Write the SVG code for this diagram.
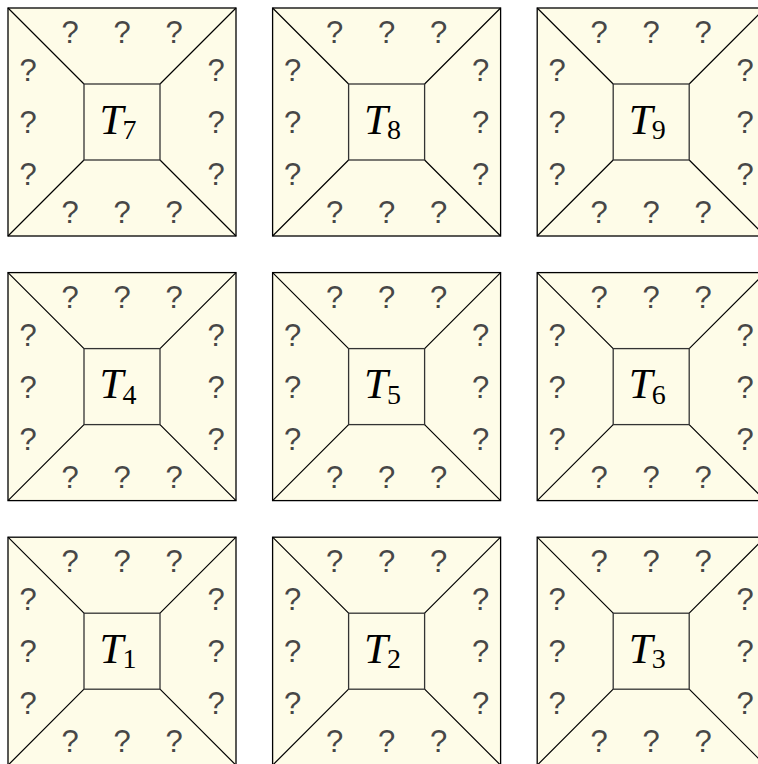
<svg xmlns="http://www.w3.org/2000/svg" width="758" height="764" viewBox="0 0 758 764">
<style>
.outer{fill:#FEFCE8;stroke:#000;stroke-width:1.3}
.inner{fill:none;stroke:#333;stroke-width:1.3}
.diag{fill:none;stroke:#000;stroke-width:1.2}
.q{font-family:"Liberation Sans",Arial,sans-serif;font-size:31px;fill:#474747;text-anchor:middle}
.lab{font-family:"Liberation Serif","Times New Roman",serif;font-size:43px;fill:#000}
.lab .v{font-style:italic}
.lab .s{font-size:28px}
</style>
<defs>
<g id="frame">
<rect class="outer" x="0" y="0" width="228" height="228"/>
<path class="diag" d="M0,0L76,76M228,0L152,76M0,228L76,152M228,228L152,152"/>
<rect class="inner" x="76" y="76" width="76" height="76"/>
</g>
</defs>
<rect width="758" height="764" fill="#fff"/>
<g id="tiles">
<g id="tile-T7" transform="translate(8,8)">
<use href="#frame"/>
<text class="q" x="62" y="35">?</text><text class="q" x="114" y="35">?</text><text class="q" x="166" y="35">?</text>
<text class="q" x="62" y="215">?</text><text class="q" x="114" y="215">?</text><text class="q" x="166" y="215">?</text>
<text class="q" x="20" y="73">?</text><text class="q" x="20" y="125">?</text><text class="q" x="20" y="177">?</text>
<text class="q" x="208" y="73">?</text><text class="q" x="208" y="125">?</text><text class="q" x="208" y="177">?</text>
<text class="lab" x="91.5" y="125.5"><tspan class="v">T</tspan><tspan class="s" x="114.5" y="131">7</tspan></text>
</g>
<g id="tile-T8" transform="translate(272.6,8)">
<use href="#frame"/>
<text class="q" x="62" y="35">?</text><text class="q" x="114" y="35">?</text><text class="q" x="166" y="35">?</text>
<text class="q" x="62" y="215">?</text><text class="q" x="114" y="215">?</text><text class="q" x="166" y="215">?</text>
<text class="q" x="20" y="73">?</text><text class="q" x="20" y="125">?</text><text class="q" x="20" y="177">?</text>
<text class="q" x="208" y="73">?</text><text class="q" x="208" y="125">?</text><text class="q" x="208" y="177">?</text>
<text class="lab" x="91.5" y="125.5"><tspan class="v">T</tspan><tspan class="s" x="114.5" y="131">8</tspan></text>
</g>
<g id="tile-T9" transform="translate(537.2,8)">
<use href="#frame"/>
<text class="q" x="62" y="35">?</text><text class="q" x="114" y="35">?</text><text class="q" x="166" y="35">?</text>
<text class="q" x="62" y="215">?</text><text class="q" x="114" y="215">?</text><text class="q" x="166" y="215">?</text>
<text class="q" x="20" y="73">?</text><text class="q" x="20" y="125">?</text><text class="q" x="20" y="177">?</text>
<text class="q" x="208" y="73">?</text><text class="q" x="208" y="125">?</text><text class="q" x="208" y="177">?</text>
<text class="lab" x="91.5" y="125.5"><tspan class="v">T</tspan><tspan class="s" x="114.5" y="131">9</tspan></text>
</g>
<g id="tile-T4" transform="translate(8,272.6)">
<use href="#frame"/>
<text class="q" x="62" y="35">?</text><text class="q" x="114" y="35">?</text><text class="q" x="166" y="35">?</text>
<text class="q" x="62" y="215">?</text><text class="q" x="114" y="215">?</text><text class="q" x="166" y="215">?</text>
<text class="q" x="20" y="73">?</text><text class="q" x="20" y="125">?</text><text class="q" x="20" y="177">?</text>
<text class="q" x="208" y="73">?</text><text class="q" x="208" y="125">?</text><text class="q" x="208" y="177">?</text>
<text class="lab" x="91.5" y="125.5"><tspan class="v">T</tspan><tspan class="s" x="114.5" y="131">4</tspan></text>
</g>
<g id="tile-T5" transform="translate(272.6,272.6)">
<use href="#frame"/>
<text class="q" x="62" y="35">?</text><text class="q" x="114" y="35">?</text><text class="q" x="166" y="35">?</text>
<text class="q" x="62" y="215">?</text><text class="q" x="114" y="215">?</text><text class="q" x="166" y="215">?</text>
<text class="q" x="20" y="73">?</text><text class="q" x="20" y="125">?</text><text class="q" x="20" y="177">?</text>
<text class="q" x="208" y="73">?</text><text class="q" x="208" y="125">?</text><text class="q" x="208" y="177">?</text>
<text class="lab" x="91.5" y="125.5"><tspan class="v">T</tspan><tspan class="s" x="114.5" y="131">5</tspan></text>
</g>
<g id="tile-T6" transform="translate(537.2,272.6)">
<use href="#frame"/>
<text class="q" x="62" y="35">?</text><text class="q" x="114" y="35">?</text><text class="q" x="166" y="35">?</text>
<text class="q" x="62" y="215">?</text><text class="q" x="114" y="215">?</text><text class="q" x="166" y="215">?</text>
<text class="q" x="20" y="73">?</text><text class="q" x="20" y="125">?</text><text class="q" x="20" y="177">?</text>
<text class="q" x="208" y="73">?</text><text class="q" x="208" y="125">?</text><text class="q" x="208" y="177">?</text>
<text class="lab" x="91.5" y="125.5"><tspan class="v">T</tspan><tspan class="s" x="114.5" y="131">6</tspan></text>
</g>
<g id="tile-T1" transform="translate(8,537.2)">
<use href="#frame"/>
<text class="q" x="62" y="35">?</text><text class="q" x="114" y="35">?</text><text class="q" x="166" y="35">?</text>
<text class="q" x="62" y="215">?</text><text class="q" x="114" y="215">?</text><text class="q" x="166" y="215">?</text>
<text class="q" x="20" y="73">?</text><text class="q" x="20" y="125">?</text><text class="q" x="20" y="177">?</text>
<text class="q" x="208" y="73">?</text><text class="q" x="208" y="125">?</text><text class="q" x="208" y="177">?</text>
<text class="lab" x="91.5" y="125.5"><tspan class="v">T</tspan><tspan class="s" x="114.5" y="131">1</tspan></text>
</g>
<g id="tile-T2" transform="translate(272.6,537.2)">
<use href="#frame"/>
<text class="q" x="62" y="35">?</text><text class="q" x="114" y="35">?</text><text class="q" x="166" y="35">?</text>
<text class="q" x="62" y="215">?</text><text class="q" x="114" y="215">?</text><text class="q" x="166" y="215">?</text>
<text class="q" x="20" y="73">?</text><text class="q" x="20" y="125">?</text><text class="q" x="20" y="177">?</text>
<text class="q" x="208" y="73">?</text><text class="q" x="208" y="125">?</text><text class="q" x="208" y="177">?</text>
<text class="lab" x="91.5" y="125.5"><tspan class="v">T</tspan><tspan class="s" x="114.5" y="131">2</tspan></text>
</g>
<g id="tile-T3" transform="translate(537.2,537.2)">
<use href="#frame"/>
<text class="q" x="62" y="35">?</text><text class="q" x="114" y="35">?</text><text class="q" x="166" y="35">?</text>
<text class="q" x="62" y="215">?</text><text class="q" x="114" y="215">?</text><text class="q" x="166" y="215">?</text>
<text class="q" x="20" y="73">?</text><text class="q" x="20" y="125">?</text><text class="q" x="20" y="177">?</text>
<text class="q" x="208" y="73">?</text><text class="q" x="208" y="125">?</text><text class="q" x="208" y="177">?</text>
<text class="lab" x="91.5" y="125.5"><tspan class="v">T</tspan><tspan class="s" x="114.5" y="131">3</tspan></text>
</g>
</g>
<g id="connectors"/>
</svg>
